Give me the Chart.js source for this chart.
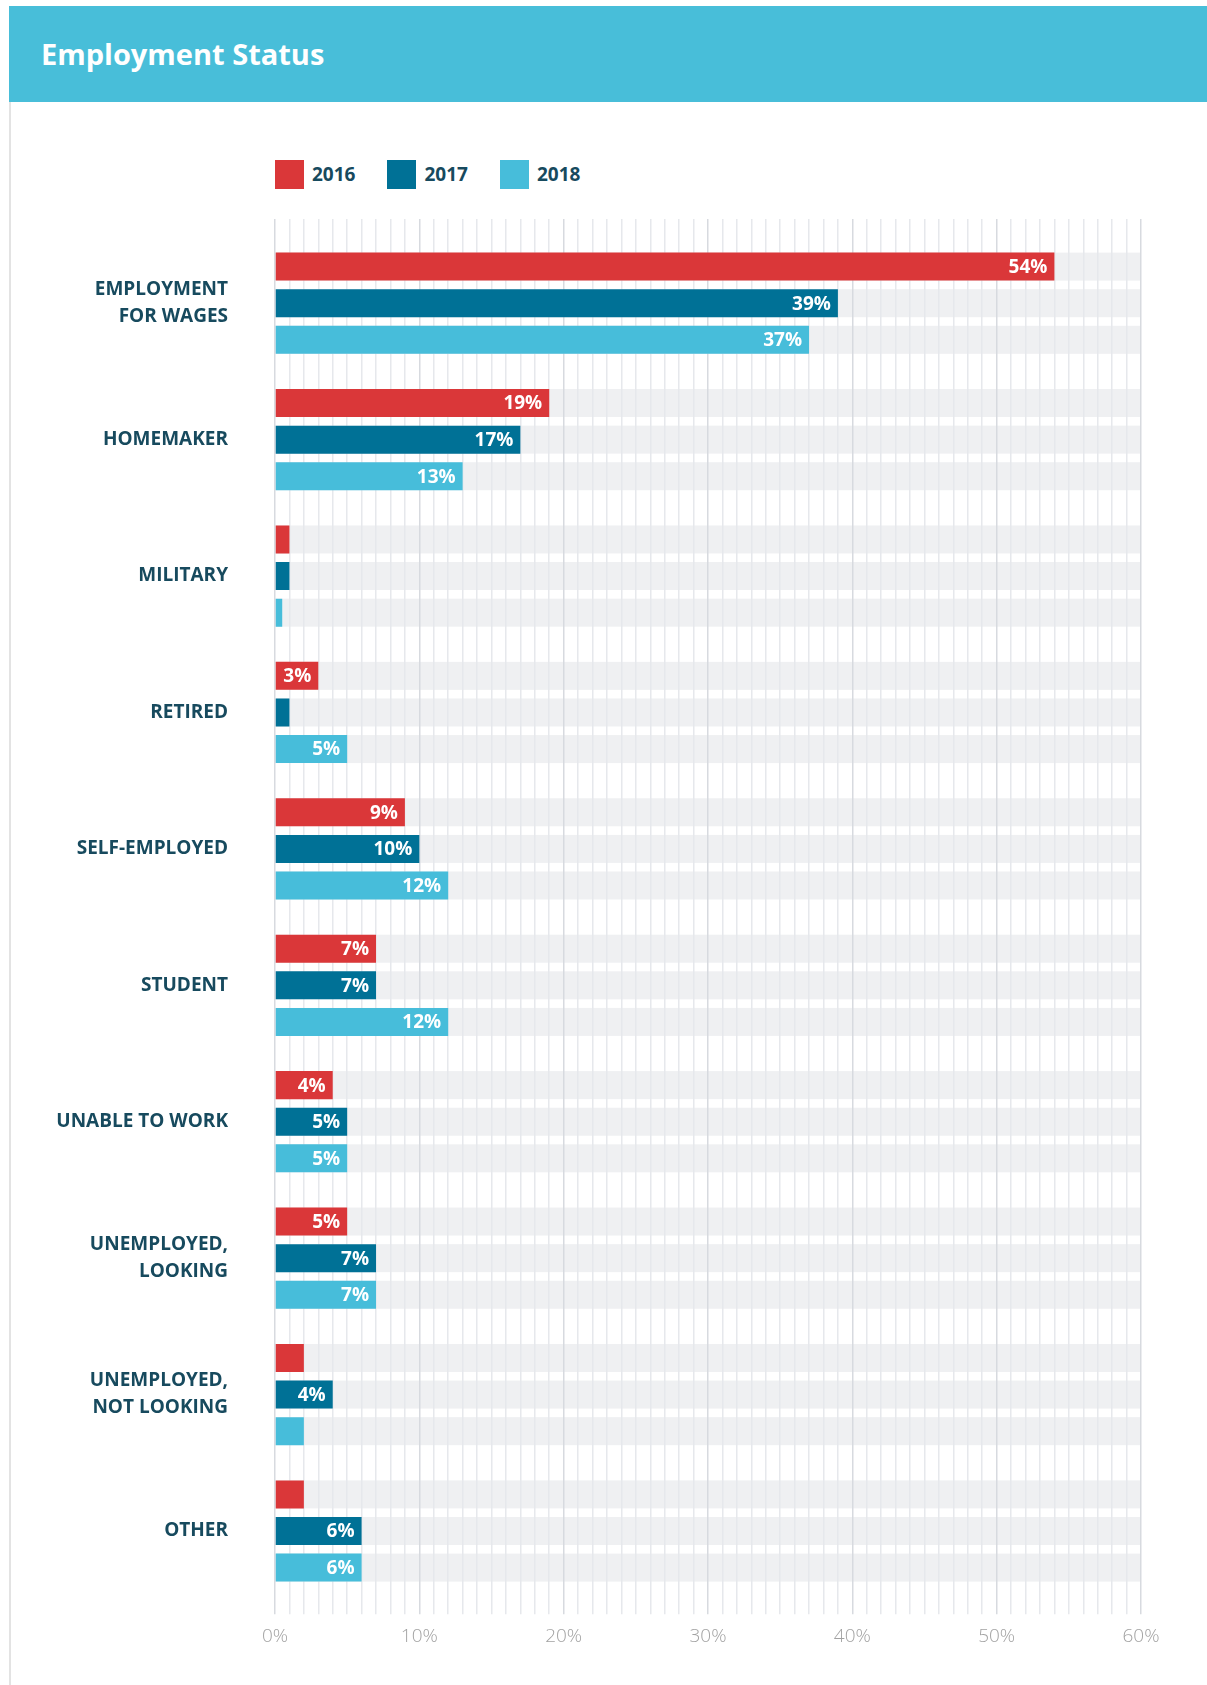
<!DOCTYPE html>
<html>
<head>
<meta charset="utf-8">
<script src="https://cdn.jsdelivr.net/npm/chart.js@4.4.1/dist/chart.umd.min.js"></script>
<style>
  html, body { margin: 0; padding: 0; background: #ffffff; }
  body { width: 1207px; height: 1685px; position: relative; overflow: hidden; font-family: "Open Sans", sans-serif; }
  #header { position: absolute; left: 9px; top: 6px; width: 1198px; height: 96px; background: #48bed9; }
  #header h1 { margin: 0; position: absolute; left: 32px; top: 0; line-height: 96px; font-size: 29px; font-weight: 700; color: #ffffff; letter-spacing: 0; }
  #card { position: absolute; left: 9px; top: 102px; width: 1198px; height: 1583px; border-left: 2px solid #e3e3e3; box-sizing: border-box; }
  #legend { position: absolute; left: 275px; top: 160px; display: flex; align-items: center; }
  .lg-item { display: flex; align-items: center; margin-right: 32px; }
  .lg-box { width: 29px; height: 29px; margin-right: 8px; }
  .lg-text { font-size: 19px; font-weight: 700; color: #174a5e; line-height: 29px; }
  #chartWrap { position: absolute; left: 10px; top: 102px; width: 1197px; height: 1583px; }
</style>
</head>
<body>
<div id="header"><h1>Employment Status</h1></div>
<div id="card"></div>
<div id="legend"></div>
<div id="chartWrap"><canvas id="chart" width="1197" height="1583"></canvas></div>
<script>
// ---- data ----
const categories = [
  ['EMPLOYMENT', 'FOR WAGES'],
  'HOMEMAKER',
  'MILITARY',
  'RETIRED',
  'SELF-EMPLOYED',
  'STUDENT',
  'UNABLE TO WORK',
  ['UNEMPLOYED,', 'LOOKING'],
  ['UNEMPLOYED,', 'NOT LOOKING'],
  'OTHER'
];
const seriesNames = ['2016', '2017', '2018'];
const values2016 = [54, 19, 1, 3, 9, 7, 4, 5, 2, 2];
const values2017 = [39, 17, 1, 1, 10, 7, 5, 7, 4, 6];
const values2018 = [37, 13, 0.5, 5, 12, 12, 5, 7, 2, 6];
const axisMin = 0;
const axisMax = 60;
const minorStep = 1;
const majorStep = 10;
const labelThreshold = 3;

// ---- styles ----
const seriesColors = ['#da3739', '#007196', '#47bdda'];
const trackColor = '#eff0f2';
const minorGrid = '#e6e8ec';
const majorGrid = '#d7dadf';

// HTML legend built from the series
const legendEl = document.getElementById('legend');
seriesNames.forEach((name, i) => {
  const item = document.createElement('div');
  item.className = 'lg-item';
  const box = document.createElement('div');
  box.className = 'lg-box';
  box.style.background = seriesColors[i];
  const txt = document.createElement('span');
  txt.className = 'lg-text';
  txt.textContent = name;
  item.appendChild(box); item.appendChild(txt);
  legendEl.appendChild(item);
});

const allValues = [values2016, values2017, values2018];

const gridColor = (ctx) => (ctx.tick && ctx.tick.value % majorStep === 0) ? majorGrid : minorGrid;

const trackPlugin = {
  id: 'tracks',
  beforeDraw(chart) {
    const ctx = chart.ctx;
    const x = chart.scales.x;
    const x0 = x.getPixelForValue(axisMin);
    const x1 = x.getPixelForValue(axisMax);
    ctx.save();
    ctx.fillStyle = trackColor;
    chart.data.datasets.forEach((ds, di) => {
      chart.getDatasetMeta(di).data.forEach(el => {
        ctx.fillRect(x0, el.y - el.height / 2, x1 - x0, el.height);
      });
    });
    ctx.restore();
  }
};

const valueLabelPlugin = {
  id: 'valueLabels',
  afterDatasetsDraw(chart) {
    const ctx = chart.ctx;
    ctx.save();
    ctx.fillStyle = '#ffffff';
    ctx.font = '700 19px "Open Sans"';
    ctx.textAlign = 'right';
    ctx.textBaseline = 'middle';
    chart.data.datasets.forEach((ds, di) => {
      chart.getDatasetMeta(di).data.forEach((el, j) => {
        const v = ds.data[j];
        if (v >= labelThreshold) {
          ctx.fillText(v + '%', el.x - 7, el.y + 1);
        }
      });
    });
    ctx.restore();
  }
};

new Chart(document.getElementById('chart'), {
  type: 'bar',
  data: {
    labels: categories,
    datasets: seriesNames.map((name, i) => ({
      label: name,
      data: allValues[i],
      backgroundColor: seriesColors[i],
      borderWidth: 0,
      barPercentage: 0.765,
      categoryPercentage: 0.805
    }))
  },
  options: {
    indexAxis: 'y',
    responsive: false,
    animation: false,
    events: [],
    layout: { padding: { top: 117, bottom: 26, left: 0, right: 66 } },
    plugins: {
      legend: { display: false },
      tooltip: { enabled: false }
    },
    scales: {
      y: {
        type: 'category',
        grid: { display: false, drawTicks: false },
        border: { display: false },
        ticks: {
          padding: 47,
          color: '#174a5e',
          font: { family: '"Open Sans"', size: 19, weight: '700', lineHeight: 1.42 }
        },
        afterFit(scale) { scale.width = 265; }
      },
      x: {
        type: 'linear',
        position: 'bottom',
        min: axisMin,
        max: axisMax,
        border: { display: false },
        grid: { color: gridColor, lineWidth: 1.5, tickLength: 15, drawTicks: true },
        ticks: {
          stepSize: minorStep,
          autoSkip: false,
          maxRotation: 0,
          padding: 11,
          color: '#a2a2a2',
          font: { family: '"Open Sans"', size: 19, weight: '300' },
          callback: (v) => (v % majorStep === 0 ? v + '%' : '')
        }
      },
      x2: {
        type: 'linear',
        position: 'top',
        min: axisMin,
        max: axisMax,
        border: { display: false },
        grid: { color: gridColor, lineWidth: 1.5, tickLength: 16, drawOnChartArea: false, drawTicks: true },
        ticks: { stepSize: minorStep, display: false }
      }
    }
  },
  plugins: [trackPlugin, valueLabelPlugin]
});
</script>
</body>
</html>
